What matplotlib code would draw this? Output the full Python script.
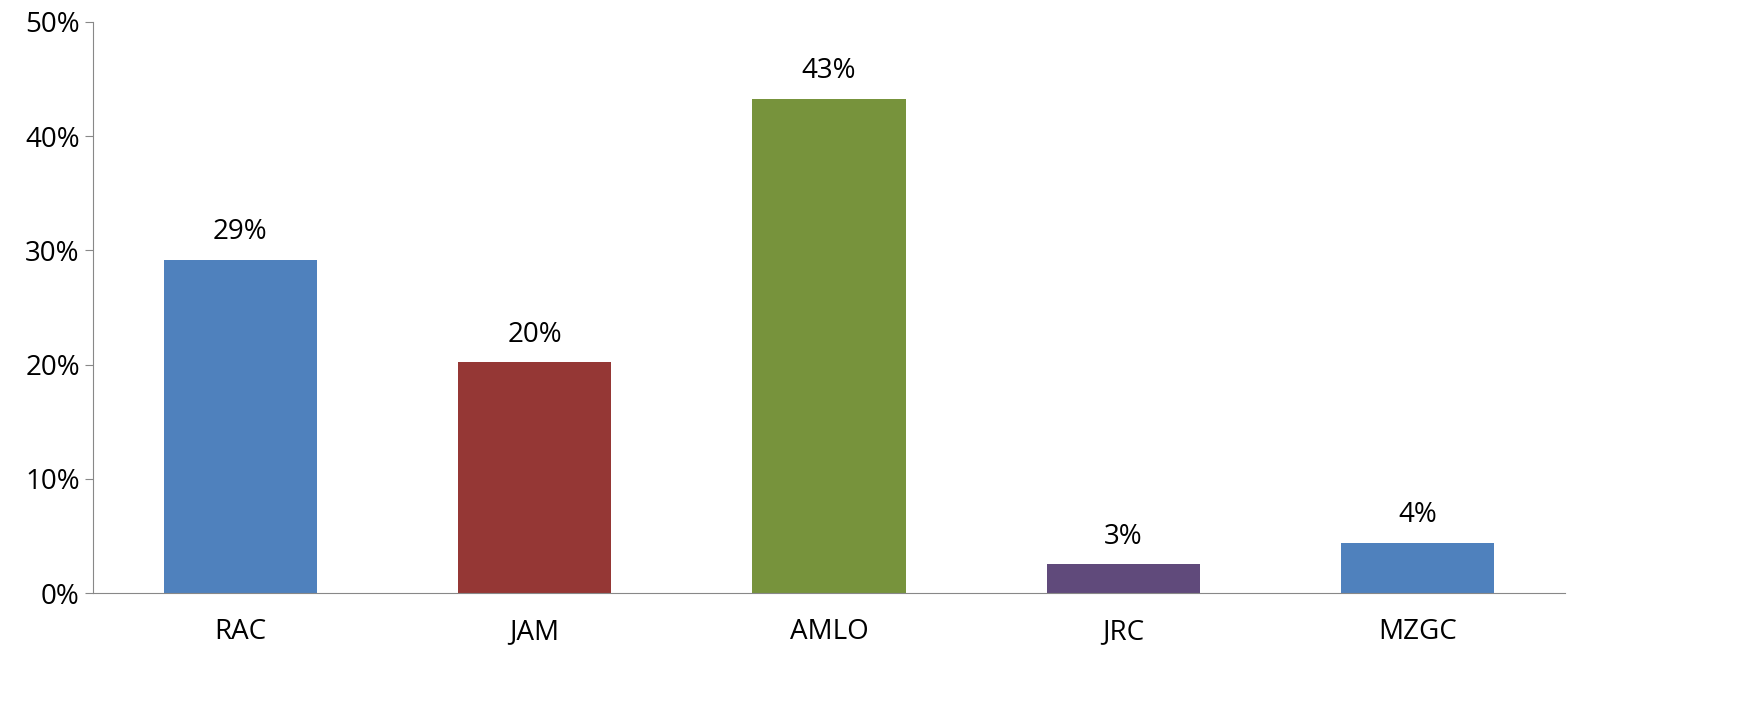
import matplotlib.pyplot as plt
from matplotlib.ticker import PercentFormatter

plt.rcParams['font.family'] = ['Open Sans', 'DejaVu Sans']

categories = ['RAC', 'JAM', 'AMLO', 'JRC', 'MZGC']
values = [29.2, 20.2, 43.3, 2.5, 4.4]
labels = ['29%', '20%', '43%', '3%', '4%']
colors = ['#4F81BD', '#953735', '#77933C', '#604A7B', '#4F81BD']

fig = plt.figure(figsize=(17.5, 7.25), dpi=100)
ax = fig.add_axes([93 / 1750, 1 - 593 / 725, (1565 - 93) / 1750, (593 - 22) / 725])

x = range(len(categories))
ax.bar(x, values, width=0.52, color=colors)
for i, v in enumerate(values):
    ax.text(i, v + 1.2, labels[i], ha='center', va='bottom', fontsize=20)

ax.set_xlim(-0.5, len(categories) - 0.5)
ax.set_ylim(0, 50)
ax.set_yticks(range(0, 51, 10))
ax.yaxis.set_major_formatter(PercentFormatter(decimals=0))
ax.set_xticks(list(x))
ax.set_xticklabels(categories)
ax.tick_params(axis='both', labelsize=20, colors='black')
ax.tick_params(axis='x', length=0, pad=18)
ax.tick_params(axis='y', length=6, color='#888888', direction='out')
for s in ['top', 'right']:
    ax.spines[s].set_visible(False)
for s in ['left', 'bottom']:
    ax.spines[s].set_color('#888888')

fig.savefig('out.png')
